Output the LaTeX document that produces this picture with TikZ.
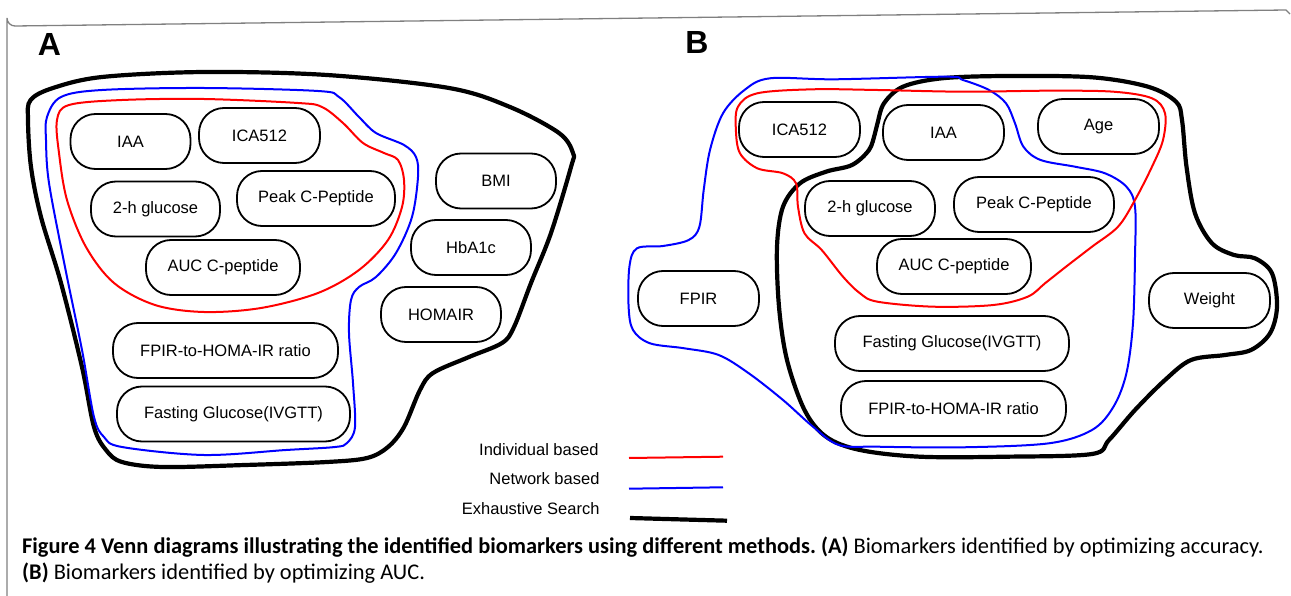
\documentclass[tikz,border=0pt]{standalone}
\usepackage{fontspec}
\setmainfont{Liberation Sans}
\newfontfamily\capfont{Carlito}
\frenchspacing
\begin{document}
\begin{tikzpicture}[x=1pt,y=-1pt,
  bx/.style={draw, line width=1.8pt, rounded corners=25pt, minimum height=55pt, inner sep=0pt,
    font=\fontsize{16.5}{19}\selectfont},
  exh/.style={line width=4.2pt, line join=round},
  net/.style={blue, line width=2pt},
  ind/.style={red, line width=2pt},
  panel/.style={font=\fontsize{32}{36}\selectfont\bfseries},
  leg/.style={anchor=east, font=\fontsize{16.5}{19}\selectfont},
  captxt/.style={anchor=base west, inner sep=0pt, font=\capfont\fontsize{22.4}{26}\selectfont}]
\useasboundingbox (0,0) rectangle (1291,596);
% frame
\draw[gray, line width=1.3pt] (7,596) -- (7,18) arc[start angle=180, end angle=90, radius=8] -- (1286,10) -- (1290,14);
% panel labels
\node[panel] (A) at (49.5,44.5) {A};
\node[panel] (B) at (697,42) {B};
% ---------------- panel A curves
\draw[exh] plot[smooth cycle, tension=0.55] coordinates {
 (30.6,100) (53,88) (102,77) (204,72) (327,75) (449,88) (510,107) (559,133) (573,153) (571,167)
 (551,233) (531,283) (514,327) (502,343) (469,357) (433,373) (420,390) (404,427) (388,447) (367,458)
 (327,462) (245,465) (163,467) (122,462) (106,450) (94,427) (82,367) (61,283) (41,217) (31,167) (28,120)};
\draw[net] plot[smooth cycle, tension=0.55] coordinates {
 (47,117) (61,97) (102,90) (204,88) (318,91) (339,97) (359,117) (376,133) (404,145) (416,157) (418,177)
 (412,217) (396,253) (376,277) (359,287) (351,300) (349,333) (353,383) (355,427) (347,443) (335,447)
 (286,450) (204,455) (122,447) (104,437) (94,417) (82,350) (65,267) (49,183) (46,140)};
\draw[ind] plot[smooth cycle, tension=0.55] coordinates {
 (57,120) (69,105) (122,100) (204,99) (298,103) (322,107) (343,123) (363,143) (384,153) (398,160) (404,180)
 (402,207) (388,240) (359,270) (318,293) (261,308) (204,312) (155,305) (114,283) (86,247) (67,200) (59,153)};
% panel A nodes
\node[bx, minimum width=120pt] (aIAA) at (130.5,141.5) {IAA};
\node[bx, minimum width=121pt] (aICA) at (259.5,135.5) {ICA512};
\node[bx, minimum width=129pt] (aGlu) at (155.5,209) {2-h glucose};
\node[bx, minimum width=158pt] (aPeak) at (316,198.5) {Peak C-Peptide};
\node[bx, minimum width=154pt] (aAUC) at (223,267.5) {AUC C-peptide};
\node[bx, minimum width=120pt] (aBMI) at (496,181) {BMI};
\node[bx, minimum width=120pt] (aHb) at (471,247.5) {HbA1c};
\node[bx, minimum width=120pt] (aHOMA) at (441,314.5) {HOMAIR};
\node[bx, minimum width=225pt] (aRatio) at (225.5,350.5) {FPIR-to-HOMA-IR ratio};
\node[bx, minimum width=233pt] (aFast) at (233.5,414) {Fasting Glucose(IVGTT)};
% ---------------- panel B curves
\draw[exh] plot[smooth cycle, tension=0.55] coordinates {
 (877.5,123.3) (884,103.3) (903,86.7) (942,78.3) (1006,76) (1092,77.3) (1148,86.7) (1176,101.7) (1182,120)
 (1186.5,166.7) (1195,213.3) (1212,243.3) (1234,255) (1255,258.3) (1272,273.3) (1277,306.7) (1270,333.3)
 (1251,350) (1225,355) (1191,360) (1165,380) (1135,410) (1109,440) (1092,454) (1006,456.7) (920,456.7)
 (860,450) (826,436.7) (804.5,410) (787,360) (779,306.7) (777,246.7) (783,206.7) (800,183.3) (826,171.7)
 (852,165) (869,150) (875,133.3)};
\draw[net] plot[smooth cycle, tension=0.55] coordinates {
 (946,76.7) (834.6,79.3) (770,78.3) (744.5,90) (723,113.3) (710,150) (703.7,190) (699.4,226.7) (688.7,240)
 (663,246) (637,248.3) (629.4,266.7) (628.6,306.7) (633,330) (650,343.3) (684.4,348.3) (718.7,355)
 (748.8,373.3) (783,400) (813,426.7) (839,445) (877.5,446.7) (963,447.3) (1049,443.3) (1092,430)
 (1113.5,406.7) (1126.4,373.3) (1133,323.3) (1135,256.7) (1135,206.7) (1126.4,186.7) (1105,173.3)
 (1075,166.7) (1040.6,160) (1023.4,146.7) (1015,123.3) (1006,103.3) (989,90) (963,80)};
\draw[ind] plot[smooth cycle, tension=0.55] coordinates {
 (735.9,130) (738,106.7) (757.3,93.3) (813,89.3) (877.5,90) (963,91.7) (1049,90.7) (1113.5,91.7) (1152,98.3)
 (1165,113.3) (1163,140) (1152,166.7) (1135,200) (1118,226.7) (1092,246.7) (1066,266.7) (1045,283.3)
 (1027.7,296.7) (993.4,305) (933.3,306.7) (877.5,301.7) (860,293.3) (843,276.7) (821.7,250) (804.5,233.3)
 (798,206.7) (796,183.3) (783,173.3) (757.3,168.3) (740,153.3)};
% panel B nodes
\node[bx, minimum width=121pt] (bICA) at (799.5,129.5) {ICA512};
\node[bx, minimum width=121pt] (bIAA) at (943.5,132.5) {IAA};
\node[bx, minimum width=121pt] (bAge) at (1098.5,126.5) {Age};
\node[bx, minimum width=130pt] (bGlu) at (870,208.5) {2-h glucose};
\node[bx, minimum width=160pt] (bPeak) at (1034,204.5) {Peak C-Peptide};
\node[bx, minimum width=154pt] (bAUC) at (954,266.5) {AUC C-peptide};
\node[bx, minimum width=121pt] (bFPIR) at (698.5,298.5) {FPIR};
\node[bx, minimum width=121pt] (bW) at (1209.5,300.5) {Weight};
\node[bx, minimum width=234pt] (bFast) at (952,343.5) {Fasting Glucose(IVGTT)};
\node[bx, minimum width=225pt] (bRatio) at (953.5,408.5) {FPIR-to-HOMA-IR ratio};
% legend
\node[leg] (l1) at (602,450) {Individual based};
\node[leg] (l2) at (603,479) {Network based};
\node[leg] (l3) at (603,509) {Exhaustive Search};
\coordinate (r1) at (629,458); \coordinate (r2) at (723,456.7);
\coordinate (b1) at (629,488.7); \coordinate (b2) at (723,487.3);
\coordinate (k1) at (630,518); \coordinate (k2) at (727,520.7);
\draw[ind] (r1) -- (r2);
\draw[net] (b1) -- (b2);
\draw[line width=4.2pt] (k1) -- (k2);
% caption
\node[captxt] (c1) at (22,553) {\textbf{Figure 4 Venn diagrams illustrating the identified biomarkers using different methods. (A)} Biomarkers identified by optimizing accuracy.};
\node[captxt] (c2) at (22,579) {\textbf{(B)} Biomarkers identified by optimizing AUC.};
\end{tikzpicture}
\end{document}
